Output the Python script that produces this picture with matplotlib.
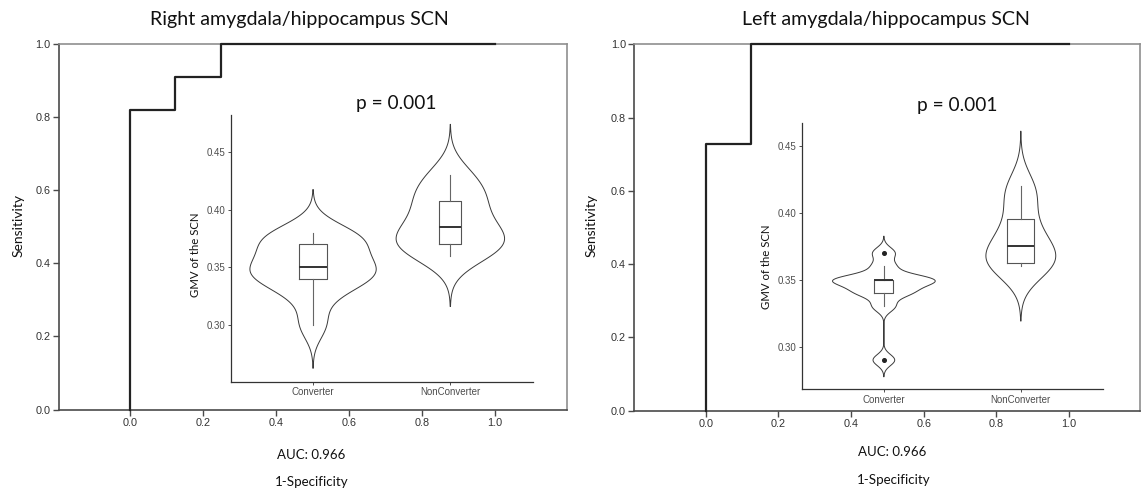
import numpy as np
import matplotlib
matplotlib.use("Agg")
import matplotlib.pyplot as plt
import seaborn as sns

# ---------------- data ----------------
titles = ["Right amygdala/hippocampus SCN", "Left amygdala/hippocampus SCN"]
p_labels = ["p = 0.001", "p = 0.001"]
auc_labels = ["AUC: 0.966", "AUC: 0.966"]
groups = ["Converter", "NonConverter"]

# ROC curves (1-specificity, sensitivity)
roc_right_fpr = [0.0, 0.0, 0.125, 0.25, 1.0]
roc_right_tpr = [0.0, 0.818, 0.909, 1.0, 1.0]
roc_left_fpr = [0.0, 0.0, 0.125, 1.0]
roc_left_tpr = [0.0, 0.727, 1.0, 1.0]

# GMV values of the SCN per group (estimated)
right_converter = [0.30, 0.325, 0.34, 0.34, 0.345, 0.35, 0.355, 0.365, 0.375, 0.375, 0.38]
right_nonconverter = [0.36, 0.37, 0.37, 0.38, 0.39, 0.405, 0.415, 0.43]
left_converter = [0.29, 0.33, 0.34, 0.34, 0.345, 0.35, 0.35, 0.35, 0.35, 0.36, 0.37]
left_nonconverter = [0.36, 0.362, 0.363, 0.37, 0.38, 0.39, 0.41, 0.42]

roc_ticks = [0.0, 0.2, 0.4, 0.6, 0.8, 1.0]
gmv_ticks = [0.30, 0.35, 0.40, 0.45]

# ---------------- style ----------------
W, H = 1146, 491
TXT = ["Lato", "DejaVu Sans"]
TICKF = ["Liberation Sans", "DejaVu Sans"]


def fx(px):
    return px / W


def fy(py):
    return 1 - py / H


def nrd0(kde):
    x = np.asarray(kde.dataset).ravel()
    sd = x.std(ddof=1)
    q1, q3 = np.percentile(x, [25, 75])
    h = 0.9 * min(sd, (q3 - q1) / 1.34) * len(x) ** -0.2
    return h / sd


fig = plt.figure(figsize=(W / 100, H / 100), dpi=100)
fig.patch.set_facecolor("white")

panels = [
    dict(ax=[59, 409.5, 567, 43.5], xlim=(-0.194, 1.198),
         fpr=roc_right_fpr, tpr=roc_right_tpr,
         ins=[230.7, 381.7, 532.7, 115], ylim=(0.251, 0.482),
         data=[right_converter, right_nonconverter],
         vw=[0.92, 0.79], bw=[0.205, 0.16],
         title_xy=(299.5, 20), p_xy=(396, 103), auc_xy=(311, 455),
         spec_xy=(312, 481.5), sens_xy=(18.5, 225), gl_xy=(195, 255)),
    dict(ax=[634.3, 410.7, 1140, 44.3], xlim=(-0.197, 1.196),
         fpr=roc_left_fpr, tpr=roc_left_tpr,
         ins=[801.7, 389, 1103, 123], ylim=(0.2684, 0.467),
         data=[left_converter, left_nonconverter],
         vw=[0.75, 0.51], bw=[0.14, 0.195],
         title_xy=(886, 20), p_xy=(957, 105), auc_xy=(892, 452),
         spec_xy=(893.5, 480), sens_xy=(591.7, 225), gl_xy=(766.7, 266.7)),
]

for i, P in enumerate(panels):
    x0, yb, x1, yt = P["ax"]
    ax = fig.add_axes([fx(x0), fy(yb), fx(x1) - fx(x0), fy(yt) - fy(yb)])
    ax.set_xlim(*P["xlim"])
    ax.set_ylim(0, 1)
    ax.plot(P["fpr"], P["tpr"], drawstyle="steps-post", color="#222222",
            lw=1.6, clip_on=False, zorder=5)
    for s in ["left", "bottom"]:
        ax.spines[s].set_color("#4a4a4a")
        ax.spines[s].set_linewidth(1.2)
    for s in ["top", "right"]:
        ax.spines[s].set_color("#8f8f8f")
        ax.spines[s].set_linewidth(1.2)
    ax.set_xticks(roc_ticks)
    ax.set_yticks(roc_ticks)
    ax.set_xticklabels([f"{t:.1f}" for t in roc_ticks])
    ax.set_yticklabels([f"{t:.1f}" for t in roc_ticks])
    ax.tick_params(direction="out", length=4, width=1, color="#4a4a4a",
                   labelsize=7.8, labelcolor="#333333", pad=2)
    for lab in ax.get_xticklabels() + ax.get_yticklabels():
        lab.set_family(TICKF)

    # texts
    fig.text(fx(P["title_xy"][0]), fy(P["title_xy"][1]), titles[i], ha="center",
             va="center", fontsize=14.1, family=TXT, color="#111111")
    fig.text(fx(P["p_xy"][0]), fy(P["p_xy"][1]), p_labels[i], ha="center",
             va="center", fontsize=13.8, family=TXT, color="#111111")
    fig.text(fx(P["auc_xy"][0]), fy(P["auc_xy"][1]), auc_labels[i], ha="center",
             va="center", fontsize=9.5, family=TXT, color="#111111")
    fig.text(fx(P["spec_xy"][0]), fy(P["spec_xy"][1]), "1-Specificity", ha="center",
             va="center", fontsize=9.6, family=TXT, color="#111111")
    fig.text(fx(P["sens_xy"][0]), fy(P["sens_xy"][1]), "Sensitivity", ha="center",
             va="center", rotation=90, fontsize=10, family=TXT, color="#111111")

    # inset violin + box
    a0, ab, a1, at = P["ins"]
    ins = fig.add_axes([fx(a0), fy(ab), fx(a1) - fx(a0), fy(at) - fy(ab)])
    ins.patch.set_alpha(0)
    for g, vals, w in zip(groups, P["data"], P["vw"]):
        sns.violinplot(x=[g] * len(vals), y=vals, order=groups, ax=ins,
                       fill=False, inner=None, cut=3, gridsize=512,
                       bw_method=nrd0, density_norm="width", width=w,
                       color="#3a3a3a", linewidth=0.7)
    for k, (vals, bwid) in enumerate(zip(P["data"], P["bw"])):
        ins.boxplot([vals], positions=[k], widths=bwid, showcaps=False, whis=1.5,
                    manage_ticks=False,
                    boxprops=dict(color="#555555", lw=0.8),
                    whiskerprops=dict(color="#666666", lw=0.8),
                    medianprops=dict(color="#333333", lw=1.4),
                    flierprops=dict(marker="o", markersize=2.6,
                                    markerfacecolor="#222222",
                                    markeredgecolor="#222222"))
    ins.set_xlim(-0.6, 1.6)
    ins.set_ylim(*P["ylim"])
    ins.set_xticks([0, 1])
    ins.set_xticklabels(groups)
    ins.set_yticks(gmv_ticks)
    ins.set_yticklabels([f"{t:.2f}" for t in gmv_ticks])
    ins.set_xlabel("")
    ins.set_ylabel("")
    for s in ["top", "right"]:
        ins.spines[s].set_visible(False)
    for s in ["left", "bottom"]:
        ins.spines[s].set_color("#333333")
        ins.spines[s].set_linewidth(0.9)
    ins.tick_params(direction="out", length=2, width=0.6, color="#333333",
                    labelsize=7, labelcolor="#4d4d4d", pad=2)
    for lab in ins.get_xticklabels() + ins.get_yticklabels():
        lab.set_family(TICKF)
    fig.text(fx(P["gl_xy"][0]), fy(P["gl_xy"][1]), "GMV of the SCN", ha="center",
             va="center", rotation=90, fontsize=8.2, family=TXT, color="#111111")

fig.savefig("out.png", dpi=100, facecolor="white")
